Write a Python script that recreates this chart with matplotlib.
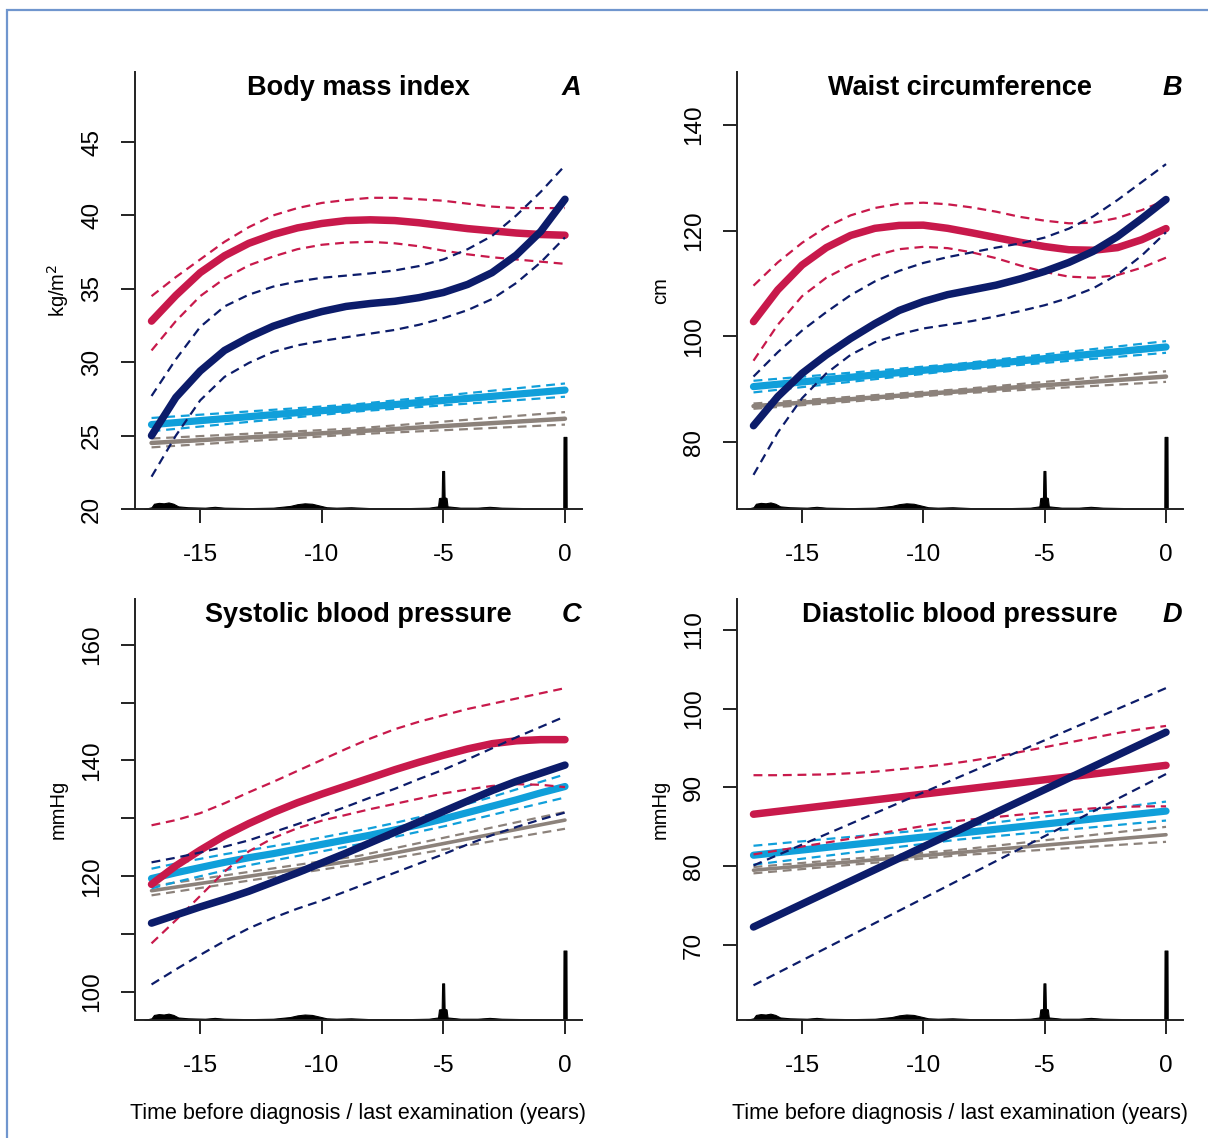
import numpy as np
import matplotlib.pyplot as plt
from matplotlib.patches import Rectangle

plt.rcParams['font.family'] = ['Liberation Sans', 'DejaVu Sans']

# years before diagnosis / last examination
t_curve = list(range(-17, 1))
t_line = [-17, -8.5, 0]

# observation time distribution (relative height of the rug-density at the bottom)
obs_time = [-17.3, -17.0, -16.9, -16.7, -16.5, -16.3, -16.1, -15.9, -15.5, -14.8, -14.4, -14.0,
            -13.0, -12.0, -11.3, -11.0, -10.7, -10.4, -10.1, -9.8, -9.4, -8.8, -8.4, -8.0,
            -6.5, -5.6, -5.22, -5.18, -5.07, -5.05, -4.97, -4.95, -4.87, -4.83, -4.3, -3.6,
            -3.1, -2.6, -1.6, -0.9, -0.07, -0.06, 0.06, 0.07]
obs_density = [0.0, 0.004, 0.012, 0.014, 0.013, 0.015, 0.012, 0.006, 0.004, 0.003, 0.005, 0.003,
               0.002, 0.003, 0.007, 0.011, 0.013, 0.012, 0.008, 0.004, 0.003, 0.004, 0.003, 0.002,
               0.002, 0.003, 0.006, 0.025, 0.026, 0.087, 0.087, 0.027, 0.025, 0.006, 0.003, 0.003,
               0.005, 0.003, 0.002, 0.001, 0.001, 0.165, 0.165, 0.0]

# --- A: body mass index (kg/m2)
bmi_red = [32.8, 34.55, 36.1, 37.25, 38.1, 38.7, 39.15, 39.45, 39.65, 39.7, 39.65, 39.5, 39.3, 39.1, 38.95, 38.8, 38.7, 38.65]
bmi_red_hi = [34.5, 35.8, 37.0, 38.2, 39.2, 40.0, 40.5, 40.85, 41.05, 41.2, 41.2, 41.1, 41.0, 40.8, 40.6, 40.5, 40.5, 40.5]
bmi_red_lo = [30.8, 32.8, 34.5, 35.7, 36.6, 37.2, 37.7, 38.0, 38.15, 38.2, 38.1, 37.9, 37.6, 37.35, 37.15, 37.0, 36.85, 36.7]
bmi_navy = [25.0, 27.6, 29.4, 30.8, 31.7, 32.45, 33.0, 33.45, 33.8, 34.0, 34.15, 34.4, 34.75, 35.3, 36.1, 37.3, 38.9, 41.1]
bmi_navy_hi = [27.7, 30.2, 32.4, 33.8, 34.6, 35.15, 35.5, 35.75, 35.9, 36.05, 36.25, 36.55, 37.0, 37.7, 38.6, 40.0, 41.6, 43.4]
bmi_navy_lo = [22.2, 25.0, 27.4, 29.0, 29.95, 30.7, 31.15, 31.45, 31.7, 31.95, 32.2, 32.55, 33.0, 33.55, 34.3, 35.4, 36.8, 38.5]
bmi_blue = [25.75, 26.9, 28.1]
bmi_blue_hi = [26.2, 27.15, 28.55]
bmi_blue_lo = [25.3, 26.65, 27.65]
bmi_gray = [24.5, 25.3, 26.15]
bmi_gray_hi = [24.8, 25.5, 26.6]
bmi_gray_lo = [24.2, 25.1, 25.75]

# --- B: waist circumference (cm)
wc_red = [102.8, 108.8, 113.5, 116.8, 119.1, 120.45, 121.0, 121.05, 120.45, 119.6, 118.7, 117.8, 117.0, 116.4, 116.3, 116.8, 118.3, 120.4]
wc_red_hi = [109.6, 114.0, 117.7, 120.7, 122.9, 124.3, 125.1, 125.3, 125.0, 124.4, 123.6, 122.6, 121.9, 121.4, 121.5, 122.4, 123.9, 125.8]
wc_red_lo = [95.4, 102.2, 107.6, 111.1, 113.5, 115.3, 116.5, 116.95, 116.7, 115.9, 114.8, 113.4, 112.2, 111.3, 111.1, 111.6, 113.0, 114.9]
wc_navy = [83.1, 88.6, 93.0, 96.5, 99.6, 102.4, 104.9, 106.6, 107.9, 108.8, 109.7, 110.9, 112.3, 114.0, 116.1, 118.9, 122.3, 125.9]
wc_navy_hi = [92.4, 97.0, 101.1, 104.6, 107.8, 110.4, 112.4, 113.9, 115.0, 115.9, 116.8, 117.6, 118.7, 120.4, 122.7, 125.8, 129.2, 132.6]
wc_navy_lo = [73.8, 81.8, 88.3, 93.0, 96.5, 98.9, 100.4, 101.5, 102.2, 102.9, 103.8, 104.8, 105.9, 107.3, 109.1, 111.7, 115.3, 119.7]
wc_blue = [90.5, 94.25, 98.0]
wc_blue_hi = [91.6, 94.85, 99.1]
wc_blue_lo = [89.4, 93.65, 96.9]
wc_gray = [86.8, 89.6, 92.4]
wc_gray_hi = [87.3, 90.0, 93.4]
wc_gray_lo = [86.3, 89.2, 91.4]

# --- C: systolic blood pressure (mmHg)
sbp_red = [118.6, 121.8, 124.5, 127.0, 129.1, 131.0, 132.7, 134.2, 135.6, 137.0, 138.4, 139.7, 140.9, 142.0, 142.9, 143.4, 143.6, 143.6]
sbp_red_hi = [128.8, 129.7, 130.9, 132.6, 134.5, 136.3, 138.2, 140.1, 142.0, 143.8, 145.4, 146.7, 147.8, 148.9, 149.8, 150.7, 151.6, 152.5]
sbp_red_lo = [108.4, 112.4, 116.6, 120.8, 124.3, 126.6, 128.3, 129.6, 130.6, 131.6, 132.5, 133.4, 134.3, 135.0, 135.6, 135.9, 135.8, 135.4]
sbp_navy = [111.9, 113.3, 114.7, 116.0, 117.4, 119.0, 120.6, 122.3, 124.0, 125.8, 127.6, 129.4, 131.2, 133.0, 134.8, 136.4, 137.8, 139.2]
sbp_navy_hi = [122.4, 123.2, 124.1, 125.1, 126.2, 127.6, 129.0, 130.5, 132.0, 133.6, 135.1, 136.8, 138.4, 140.2, 142.1, 144.0, 145.8, 147.6]
sbp_navy_lo = [101.3, 103.9, 106.4, 108.8, 111.0, 112.8, 114.4, 115.8, 117.4, 119.0, 120.6, 122.2, 123.8, 125.5, 127.1, 128.5, 129.8, 131.0]
sbp_blue = [119.6, 120.6, 121.5, 122.4, 123.2, 123.9, 124.7, 125.5, 126.3, 127.1, 128.0, 128.9, 129.9, 131.0, 132.1, 133.2, 134.4, 135.5]
sbp_blue_hi = [121.3, 122.2, 123.0, 123.8, 124.5, 125.2, 125.9, 126.7, 127.5, 128.3, 129.2, 130.2, 131.3, 132.5, 133.7, 135.0, 136.3, 137.6]
sbp_blue_lo = [117.9, 119.0, 120.0, 121.0, 121.9, 122.7, 123.5, 124.3, 125.1, 125.9, 126.8, 127.7, 128.6, 129.6, 130.6, 131.6, 132.6, 133.6]
sbp_gray = [117.5, 122.8, 129.7]
sbp_gray_hi = [118.3, 123.5, 131.1]
sbp_gray_lo = [116.7, 122.1, 128.2]

# --- D: diastolic blood pressure (mmHg)
dbp_red = [86.6, 89.7, 92.8]
dbp_red_hi = [91.55, 91.55, 91.6, 91.65, 91.8, 92.0, 92.3, 92.6, 92.95, 93.4, 93.9, 94.5, 95.1, 95.7, 96.3, 96.9, 97.4, 97.8]
dbp_red_lo = [81.5, 82.0, 82.5, 83.0, 83.5, 84.05, 84.6, 85.1, 85.6, 85.95, 86.25, 86.55, 86.85, 87.1, 87.35, 87.5, 87.6, 87.6]
dbp_navy = [72.3, 84.65, 97.0]
dbp_navy_hi = [80.1, 91.35, 102.6]
dbp_navy_lo = [64.9, 78.3, 91.7]
dbp_blue = [81.4, 84.2, 87.0]
dbp_blue_hi = [82.6, 85.0, 88.2]
dbp_blue_lo = [80.2, 83.4, 85.8]
dbp_gray = [79.5, 81.75, 84.0]
dbp_gray_hi = [79.9, 82.1, 85.0]
dbp_gray_lo = [79.1, 81.4, 83.1]

RED = '#C8194B'
NAVY = '#0C1C6A'
BLUE = '#109FDA'
GRAY = '#8C827B'

W, H = 1208, 1138
fig = plt.figure(figsize=(W / 100, H / 100), dpi=100)

# thin frame around the whole figure
fig.add_artist(Rectangle((7 / W, -0.02), 1.1, (H - 10) / H + 0.02, transform=fig.transFigure,
                         fill=False, edgecolor='#7096CE', linewidth=1.6))


def draw_series(ax, t, mean, lo, hi, t_ci, color, lw):
    ax.plot(t_ci, hi, color=color, lw=1.6, ls=(0, (4, 2.6)))
    ax.plot(t_ci, lo, color=color, lw=1.6, ls=(0, (4, 2.6)))
    ax.plot(t, mean, color=color, lw=lw, solid_capstyle='round', solid_joinstyle='round')


def setup_panel(ax, ylim, yticks, ylabels, ylabel, title, letter, xlabel):
    ax.set_xlim(-17.68, 0.7)
    ax.set_ylim(*ylim)
    for s in ('top', 'right'):
        ax.spines[s].set_visible(False)
    for s in ('left', 'bottom'):
        ax.spines[s].set_linewidth(1.4)
        ax.spines[s].set_color('#222222')
    ax.set_xticks([-15, -10, -5, 0])
    ax.set_xticklabels(['-15', '-10', '-5', '0'])
    ax.set_yticks(yticks)
    ax.set_yticklabels(ylabels)
    ax.tick_params(axis='both', direction='out', length=10, width=1.4, color='#222222',
                   labelsize=17.5)
    ax.tick_params(axis='x', pad=15)
    ax.tick_params(axis='y', pad=13, labelrotation=90)
    for lab in ax.get_yticklabels():
        lab.set_va('center')

    # observation time density along the time axis
    y0, y1 = ylim
    dens = y0 + np.array(obs_density) * (y1 - y0)
    ax.fill_between(obs_time, y0, dens, color='black', lw=0.8, zorder=1)

    ax.text(0.5, 0.963, title, transform=ax.transAxes, ha='center', va='center',
            fontsize=19.5, fontweight='bold')
    ax.text(0.976, 0.963, letter, transform=ax.transAxes, ha='center', va='center',
            fontsize=19.5, fontweight='bold', style='italic')
    ax.text(-0.172, 0.5, ylabel, transform=ax.transAxes, rotation=90, ha='center', va='center',
            fontsize=14.5)
    if xlabel:
        ax.text(0.5, -0.222, 'Time before diagnosis / last examination (years)',
                transform=ax.transAxes, ha='center', va='center', fontsize=15.5)


def add_axes(left, top, right, bottom):
    return fig.add_axes([left / W, (H - bottom) / H, (right - left) / W, (bottom - top) / H])


axA = add_axes(135, 72, 582, 509)
axB = add_axes(737, 72, 1183, 509)
axC = add_axes(135, 599, 582, 1020)
axD = add_axes(737, 599, 1183, 1020)

# A
draw_series(axA, t_line, bmi_gray, bmi_gray_lo, bmi_gray_hi, t_line, GRAY, 3.2)
draw_series(axA, t_line, bmi_blue, bmi_blue_lo, bmi_blue_hi, t_line, BLUE, 5.2)
draw_series(axA, t_curve, bmi_red, bmi_red_lo, bmi_red_hi, t_curve, RED, 5.4)
draw_series(axA, t_curve, bmi_navy, bmi_navy_lo, bmi_navy_hi, t_curve, NAVY, 5.4)
setup_panel(axA, (20, 49.77), [20, 25, 30, 35, 40, 45], ['20', '25', '30', '35', '40', '45'],
            'kg/m$^{2}$', 'Body mass index', 'A', False)

# B
draw_series(axB, t_line, wc_gray, wc_gray_lo, wc_gray_hi, t_line, GRAY, 3.2)
draw_series(axB, t_line, wc_blue, wc_blue_lo, wc_blue_hi, t_line, BLUE, 5.2)
draw_series(axB, t_curve, wc_red, wc_red_lo, wc_red_hi, t_curve, RED, 5.4)
draw_series(axB, t_curve, wc_navy, wc_navy_lo, wc_navy_hi, t_curve, NAVY, 5.4)
setup_panel(axB, (67.34, 150.03), [80, 100, 120, 140], ['80', '100', '120', '140'],
            'cm', 'Waist circumference', 'B', False)

# C
draw_series(axC, t_line, sbp_gray, sbp_gray_lo, sbp_gray_hi, t_line, GRAY, 2.6)
draw_series(axC, t_curve, sbp_blue, sbp_blue_lo, sbp_blue_hi, t_curve, BLUE, 5.2)
draw_series(axC, t_curve, sbp_red, sbp_red_lo, sbp_red_hi, t_curve, RED, 5.4)
draw_series(axC, t_curve, sbp_navy, sbp_navy_lo, sbp_navy_hi, t_curve, NAVY, 5.4)
setup_panel(axC, (95.16, 167.9), [100, 110, 120, 130, 140, 150, 160],
            ['100', '', '120', '', '140', '', '160'],
            'mmHg', 'Systolic blood pressure', 'C', True)

# D
draw_series(axD, t_line, dbp_gray, dbp_gray_lo, dbp_gray_hi, t_line, GRAY, 2.6)
draw_series(axD, t_line, dbp_blue, dbp_blue_lo, dbp_blue_hi, t_line, BLUE, 5.2)
draw_series(axD, t_line, dbp_red, dbp_red_lo, dbp_red_hi, t_curve, RED, 5.4)
draw_series(axD, t_line, dbp_navy, dbp_navy_lo, dbp_navy_hi, t_line, NAVY, 5.4)
setup_panel(axD, (60.5, 113.9), [70, 80, 90, 100, 110], ['70', '80', '90', '100', '110'],
            'mmHg', 'Diastolic blood pressure', 'D', True)

fig.savefig('out.png', dpi=100)
